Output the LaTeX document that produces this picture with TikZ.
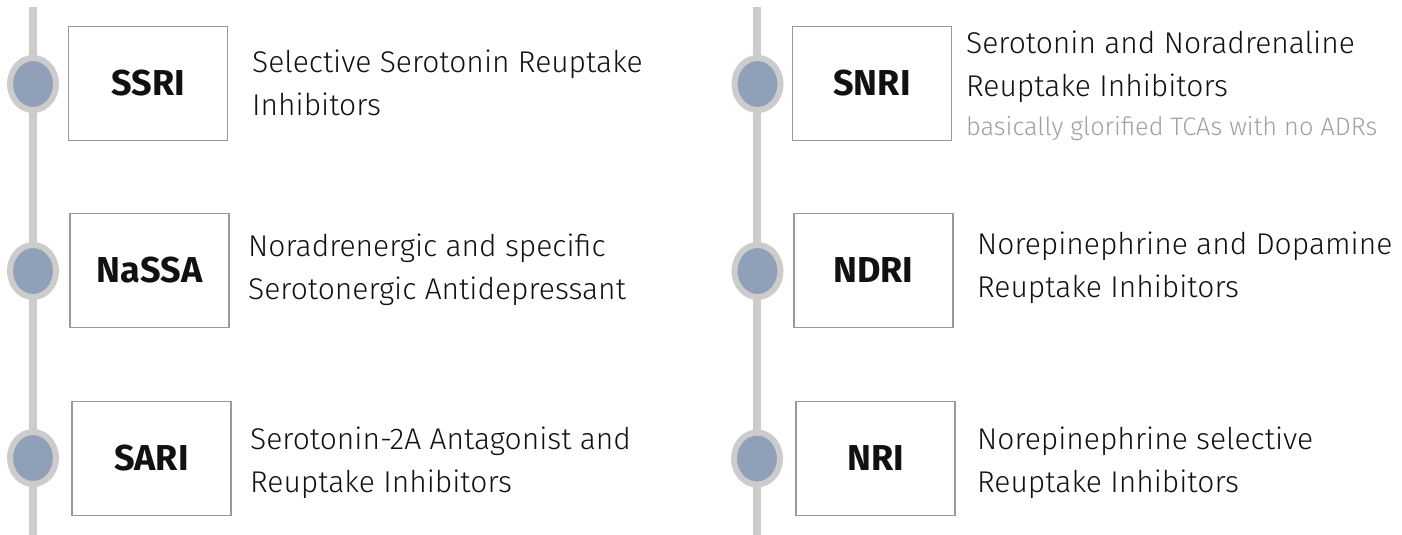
\documentclass[tikz,border=0pt]{standalone}
\usepackage{fontspec}
\setmainfont{Fira Sans}[UprightFont={* Light}, BoldFont={* Bold}]
\usetikzlibrary{shapes.geometric}
\definecolor{spinegray}{HTML}{CCCCCC}
\definecolor{dotblue}{HTML}{8FA0B8}
\definecolor{boxgray}{HTML}{9A9A9A}
\definecolor{notegray}{HTML}{A0A0A0}
\definecolor{inkblack}{HTML}{111111}
\begin{document}
\begin{tikzpicture}[x=1pt,y=-1pt,
  spine/.style={line width=7.5pt, draw=spinegray},
  dot/.style={ellipse, minimum width=46pt, minimum height=52pt, draw=spinegray, line width=6pt, fill=dotblue, inner sep=0pt},
  abbr/.style={draw=boxgray, line width=1.3pt, minimum width=159pt, minimum height=114pt, inner sep=0pt, text=inkblack, font=\bfseries\fontsize{36}{40}\selectfont},
  desc/.style={anchor=west, align=left, inner sep=0pt, text=inkblack, font=\fontsize{30}{43}\selectfont},
  note/.style={anchor=base west, inner sep=0pt, text=notegray, font=\fontsize{25.3}{30}\selectfont}]
\useasboundingbox (0,0) rectangle (1402,535);
% spines
\coordinate (lt) at (33,7);
\coordinate (lb) at (33,535);
\coordinate (rt) at (757,7);
\coordinate (rb) at (757,535);
\draw[spine] (lt) -- (lb);
\draw[spine] (rt) -- (rb);
% left column
\node[dot] (d1) at (33,84) {};
\node[dot] (d2) at (33,271) {};
\node[dot] (d3) at (33,458) {};
\node[abbr] (b1) at (148.3,83.5) {SSRI};
\node[abbr] (b2) at (149.5,270.5) {NaSSA};
\node[abbr] (b3) at (151.5,458.5) {SARI};
\node[desc] (t1) at (252,83) {Selective Serotonin Reuptake\\Inhibitors};
\node[desc] (t2) at (248,269.5) {Noradrenergic and specific\\Serotonergic Antidepressant};
\node[desc] (t3) at (250,463) {Serotonin-2A Antagonist and\\Reuptake Inhibitors};
% right column
\node[dot] (d4) at (757.5,84) {};
\node[dot] (d5) at (757.5,271) {};
\node[dot] (d6) at (757,458.5) {};
\node[abbr] (b4) at (872,83.5) {SNRI};
\node[abbr] (b5) at (873.5,270.5) {NDRI};
\node[abbr] (b6) at (875.5,458.5) {NRI};
\node[desc] (t4) at (966,67) {Serotonin and Noradrenaline\\Reuptake Inhibitors};
\node[note] (n4) at (966,135.5) {basically glorified TCAs with no ADRs};
\node[desc] (t5) at (977,268) {Norepinephrine and Dopamine\\Reuptake Inhibitors};
\node[desc] (t6) at (977,463) {Norepinephrine selective\\Reuptake Inhibitors};
\end{tikzpicture}
\end{document}
